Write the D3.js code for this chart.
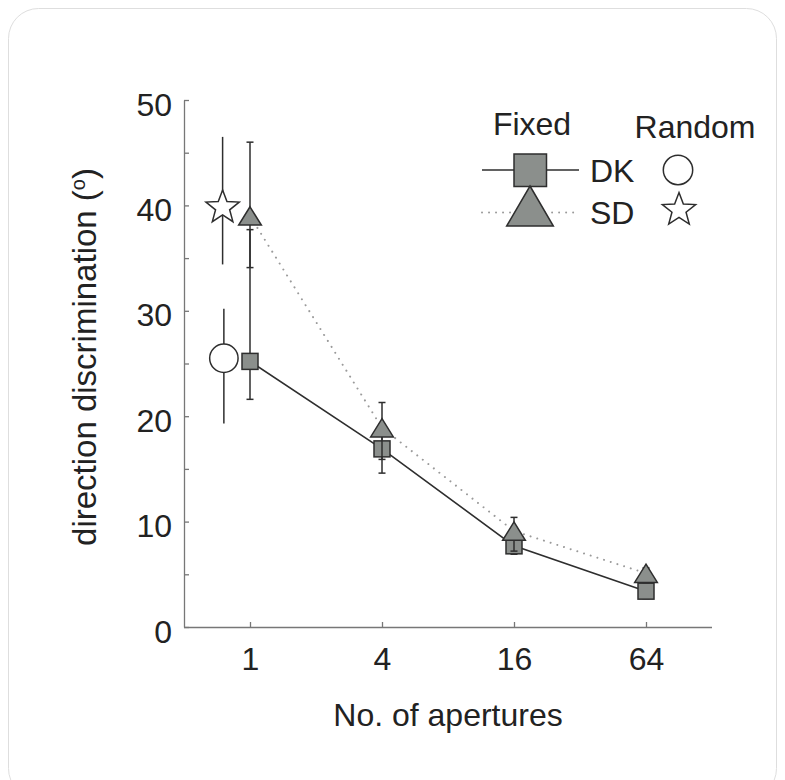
<!DOCTYPE html>
<html>
<head>
<meta charset="utf-8">
<script src="https://cdn.jsdelivr.net/npm/d3@7"></script>
<style>
  body { margin: 0; background: #fff; }
  text { font-family: "Liberation Sans", Arial, Helvetica, sans-serif; fill: #222; }
</style>
</head>
<body>
<div id="chart"></div>
<script>
// fixed aperture layout
var apertures = [1, 4, 16, 64]
var dkFixed = [25.2, 16.9, 7.7, 3.4]
var dkLo    = [21.6, 14.6, 6.9, 2.7]
var dkHi    = [37.7, 19.2, 8.5, 4.1]
var sdFixed = [39.0, 18.9, 9.1, 5.1]
var sdLo    = [34.1, 15.9, 7.2, 4.3]
var sdHi    = [46.0, 21.3, 10.4, 5.6]

// random aperture layout (single condition, plotted left of 1)
var randomX  = [0.76, 0.75]     // DK, SD
var randomY  = [25.5, 39.8]
var randomLo = [19.3, 34.4]
var randomHi = [30.2, 46.5]

var yTicks = [0, 5, 10, 15, 20, 25, 30, 35, 40, 45, 50]

var width = 785, height = 780
var fill = "#8b8f8c", ink = "#2e2e2e", axisCol = "#777"

var svg = d3.select("#chart")
    .append("svg")
      .attr("width", width)
      .attr("height", height)

// card outline
svg.append("rect")
    .attr("x", 8.5).attr("y", 8.5)
    .attr("width", 768).attr("height", 790)
    .attr("rx", 30)
    .attr("fill", "#fff")
    .attr("stroke", "#dedede")

var x = d3.scaleLog()
    .domain([0.5, 128])
    .range([184, 712])

var y = d3.scaleLinear()
    .domain([0, 50])
    .range([627, 100])

// Y axis
var gy = svg.append("g")
    .attr("transform", "translate(184,0)")
    .call(d3.axisLeft(y)
        .tickValues(yTicks)
        .tickFormat(function(d) { return d % 10 === 0 ? d : ""; })
        .tickSizeInner(-5)
        .tickSizeOuter(0)
        .tickPadding(12))
gy.attr("font-size", 32).attr("font-family", null)
gy.selectAll("text").attr("dy", "0.47em").attr("fill", "#222")

// X axis
var gx = svg.append("g")
    .attr("transform", "translate(0,627)")
    .call(d3.axisBottom(x)
        .tickValues(apertures)
        .tickFormat(d3.format("d"))
        .tickSizeInner(-5)
        .tickSizeOuter(0)
        .tickPadding(20))
gx.attr("font-size", 32).attr("font-family", null)
gx.selectAll("text").attr("fill", "#222")

svg.selectAll(".domain, .tick line")
    .attr("stroke", axisCol)
    .attr("stroke-width", 1.3)

// x extends a bit past last tick
gx.select(".domain").attr("d", "M184,0.5H712")

// axis titles
svg.append("text")
    .attr("text-anchor", "middle")
    .attr("x", 448)
    .attr("y", 726)
    .attr("font-size", 32)
    .text("No. of apertures")

var yl = svg.append("text")
    .attr("text-anchor", "middle")
    .attr("transform", "translate(96,357) rotate(-90)")
    .attr("font-size", 33)
yl.append("tspan").text("direction discrimination (")
yl.append("tspan").attr("font-size", 20).attr("dy", -11).text("o")
yl.append("tspan").attr("dy", 11).text(")")

// helpers
function triPath(w, h) {
    return "M0," + (-h / 2) + "L" + (w / 2) + "," + (h / 2) + "L" + (-w / 2) + "," + (h / 2) + "Z"
}
function starPath(R, r) {
    var p = []
    for (var i = 0; i < 10; i++) {
        var a = -Math.PI / 2 + i * Math.PI / 5
        var rr = i % 2 === 0 ? R : r
        p.push([rr * Math.cos(a), rr * Math.sin(a)])
    }
    return "M" + p.join("L") + "Z"
}
function errBars(xs, lo, hi, cap) {
    var g = svg.append("g").attr("stroke", ink).attr("stroke-width", 1.5)
    xs.forEach(function(xv, i) {
        g.append("line")
            .attr("x1", x(xv)).attr("x2", x(xv))
            .attr("y1", y(lo[i])).attr("y2", y(hi[i]))
        if (cap) {
            [lo[i], hi[i]].forEach(function(v) {
                g.append("line")
                    .attr("x1", x(xv) - cap).attr("x2", x(xv) + cap)
                    .attr("y1", y(v)).attr("y2", y(v))
            })
        }
    })
}

var dkData = apertures.map(function(a, i) { return {a: a, v: dkFixed[i]}; })
var sdData = apertures.map(function(a, i) { return {a: a, v: sdFixed[i]}; })

var line = d3.line()
    .x(function(d) { return x(d.a); })
    .y(function(d) { return y(d.v); })

svg.append("path")
    .datum(sdData)
    .attr("d", line)
    .attr("fill", "none")
    .attr("stroke", "#9a9a9a")
    .attr("stroke-width", 2)
    .attr("stroke-linecap", "round")
    .attr("stroke-dasharray", "0.01,7")

svg.append("path")
    .datum(dkData)
    .attr("d", line)
    .attr("fill", "none")
    .attr("stroke", ink)
    .attr("stroke-width", 1.6)

// DK fixed
errBars(apertures, dkLo, dkHi, 3.5)
svg.selectAll("rect.dk")
    .data(dkData)
    .enter()
    .append("rect")
    .attr("class", "dk")
    .attr("x", function(d) { return x(d.a) - 8; })
    .attr("y", function(d) { return y(d.v) - 8; })
    .attr("width", 16)
    .attr("height", 16)
    .attr("fill", fill)
    .attr("stroke", ink)
    .attr("stroke-width", 1.5)

// SD fixed
errBars(apertures, sdLo, sdHi, 3.5)
svg.selectAll("path.sd")
    .data(sdData)
    .enter()
    .append("path")
    .attr("class", "sd")
    .attr("d", triPath(22.7, 18.3))
    .attr("transform", function(d) { return "translate(" + x(d.a) + "," + y(d.v) + ")"; })
    .attr("fill", fill)
    .attr("stroke", ink)
    .attr("stroke-width", 1.5)

// random
errBars(randomX, randomLo, randomHi, 0)
svg.append("circle")
    .attr("cx", x(randomX[0]))
    .attr("cy", y(randomY[0]))
    .attr("r", 14.2)
    .attr("fill", "#fff")
    .attr("stroke", ink)
    .attr("stroke-width", 1.5)
svg.append("path")
    .attr("d", starPath(17.5, 7.4))
    .attr("transform", "translate(" + x(randomX[1]) + "," + y(randomY[1]) + ")")
    .attr("fill", "#fff")
    .attr("stroke", ink)
    .attr("stroke-width", 1.5)

// legend
var lg = svg.append("g")
lg.append("text").attr("x", 532).attr("y", 135).attr("text-anchor", "middle").attr("font-size", 32).text("Fixed")
lg.append("text").attr("x", 695).attr("y", 138).attr("text-anchor", "middle").attr("font-size", 32).text("Random")

lg.append("line")
    .attr("x1", 482).attr("x2", 579).attr("y1", 170).attr("y2", 170)
    .attr("stroke", ink).attr("stroke-width", 1.6)
lg.append("rect")
    .attr("x", 514).attr("y", 154).attr("width", 32.5).attr("height", 32.5)
    .attr("fill", fill).attr("stroke", ink).attr("stroke-width", 1.5)
lg.append("line")
    .attr("x1", 482).attr("x2", 579).attr("y1", 212.5).attr("y2", 212.5)
    .attr("stroke", "#9a9a9a").attr("stroke-width", 2)
    .attr("stroke-linecap", "round").attr("stroke-dasharray", "0.01,7")
lg.append("path")
    .attr("d", triPath(46.7, 40))
    .attr("transform", "translate(530,206)")
    .attr("fill", fill).attr("stroke", ink).attr("stroke-width", 1.5)
lg.append("text").attr("x", 590).attr("y", 181.5).attr("font-size", 32).text("DK")
lg.append("text").attr("x", 590).attr("y", 223.5).attr("font-size", 32).text("SD")
lg.append("circle")
    .attr("cx", 678).attr("cy", 170).attr("r", 14.7)
    .attr("fill", "#fff").attr("stroke", ink).attr("stroke-width", 1.5)
lg.append("path")
    .attr("d", starPath(17.5, 7.4))
    .attr("transform", "translate(679,210)")
    .attr("fill", "#fff").attr("stroke", ink).attr("stroke-width", 1.5)
</script>
</body>
</html>
